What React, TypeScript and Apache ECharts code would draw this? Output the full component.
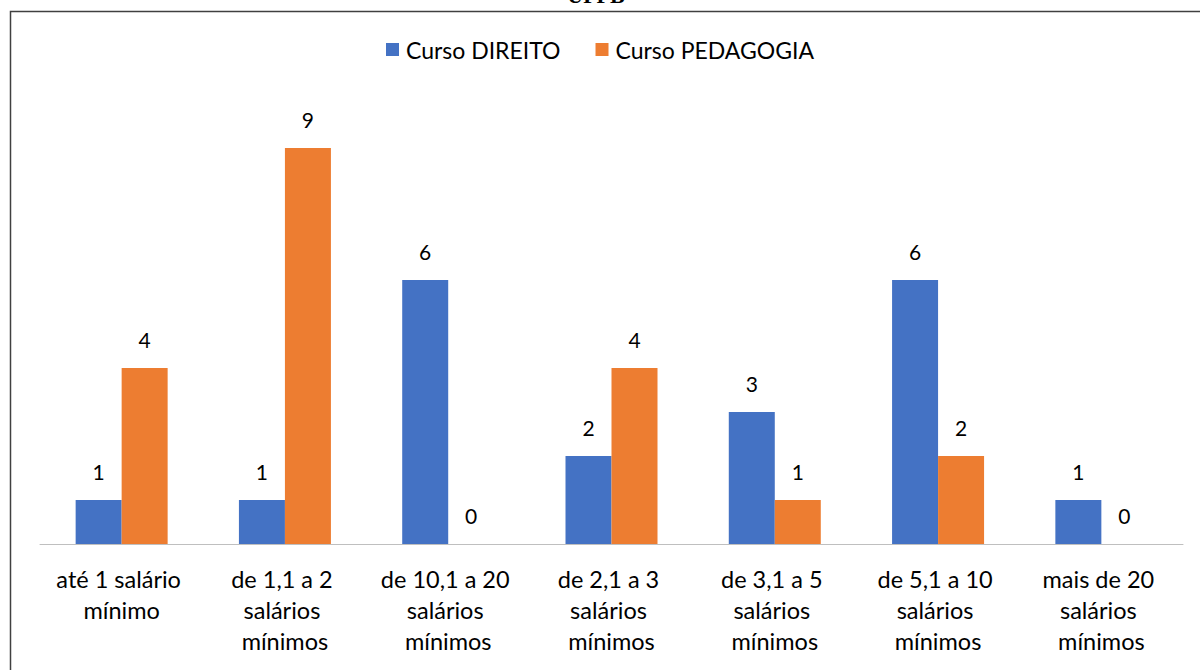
import React, { useEffect, useRef } from "react";
import * as echarts from "echarts";

const categories = [
  "até 1 salário mínimo",
  "de 1,1 a 2 salários mínimos",
  "de 10,1 a 20 salários mínimos",
  "de 2,1 a 3 salários mínimos",
  "de 3,1 a 5 salários mínimos",
  "de 5,1 a 10 salários mínimos",
  "mais de 20 salários mínimos",
];
const direito = [1, 1, 6, 2, 3, 6, 1];
const pedagogia = [4, 9, 0, 4, 1, 2, 0];
const seriesNames = ["Curso DIREITO", "Curso PEDAGOGIA"];
const titleText = "UFPB";

const FONT = "Lato, 'Open Sans', sans-serif";

export default function App() {
  const ref = useRef<HTMLDivElement>(null);
  useEffect(() => {
    const chart = echarts.init(ref.current!, null, { renderer: "svg" });
    const label = {
      show: true,
      position: "top",
      distance: 18,
      color: "#000",
      fontSize: 21,
      fontFamily: FONT,
    };
    chart.setOption({
      animation: false,
      backgroundColor: "#fff",
      graphic: [
        {
          type: "rect",
          shape: { x: 10.5, y: 11.5, width: 1250, height: 700 },
          style: { fill: "none", stroke: "#404040", lineWidth: 1.5 },
          silent: true,
        },
        {
          type: "text",
          x: 596,
          y: 6,
          style: {
            text: titleText,
            fontFamily: "'Liberation Serif', serif",
            fontSize: 22,
            fontWeight: "bold",
            fill: "#000",
            textAlign: "center",
            textVerticalAlign: "bottom",
          },
        },
      ],
      legend: {
        top: 33,
        left: "center",
        itemWidth: 13,
        itemHeight: 13,
        itemGap: 35,
        icon: "rect",
        textStyle: { fontSize: 23, fontFamily: FONT, color: "#000", padding: [0, 0, 0, 2] },
        data: seriesNames,
      },
      grid: { left: 40, right: 17, top: 104, bottom: 126 },
      xAxis: {
        type: "category",
        data: categories,
        axisLine: { lineStyle: { color: "#bfbfbf", width: 1 } },
        axisTick: { show: false },
        axisLabel: {
          interval: 0,
          margin: 19,
          color: "#000",
          fontSize: 23.5,
          fontFamily: FONT,
          lineHeight: 31,
          width: 155,
          overflow: "break",
        },
      },
      yAxis: {
        type: "value",
        min: 0,
        max: 10,
        show: false,
        splitLine: { show: false },
      },
      series: [
        {
          name: seriesNames[0],
          type: "bar",
          data: direito,
          barWidth: 46,
          barGap: "0%",
          itemStyle: { color: "#4472c4" },
          label,
        },
        {
          name: seriesNames[1],
          type: "bar",
          data: pedagogia,
          barWidth: 46,
          barGap: "0%",
          itemStyle: { color: "#ed7d31" },
          label,
        },
      ],
    });
    return () => chart.dispose();
  }, []);
  return (
    <div
      ref={ref}
      style={{ position: "fixed", left: 0, top: 0, width: 1200, height: 670 }}
    />
  );
}
